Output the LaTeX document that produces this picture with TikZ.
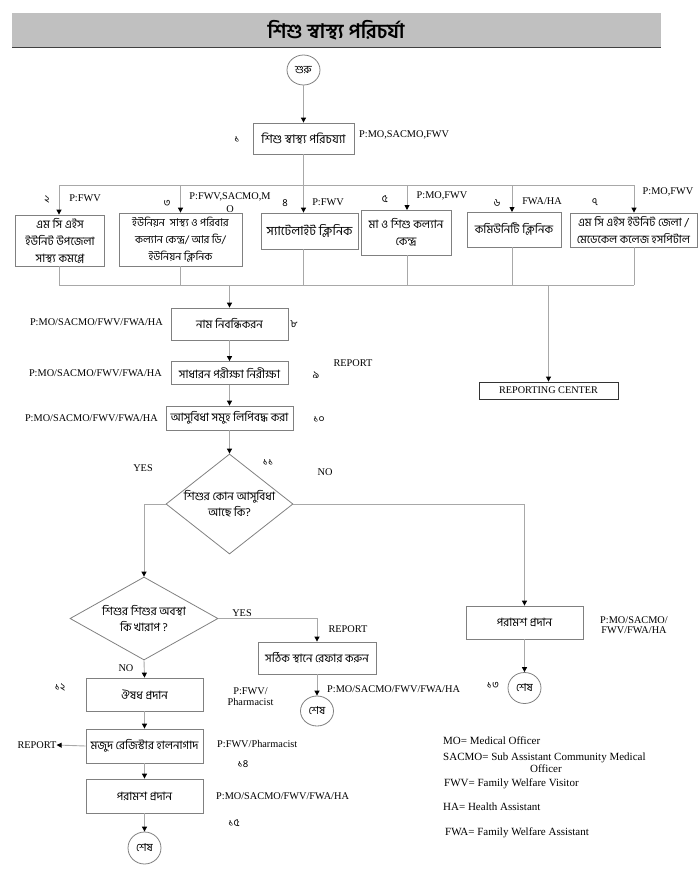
\documentclass[tikz,border=0pt]{standalone}
\usepackage{fontspec}
\setmainfont{Liberation Serif}
\newfontfamily\bn[Script=Bengali]{Hind Siliguri}
\usetikzlibrary{arrows.meta,shapes.geometric}
\definecolor{bordergray}{HTML}{808080}
\definecolor{linegray}{HTML}{A8A8A8}
\definecolor{titlegray}{HTML}{C0C0C0}
\definecolor{titleline}{HTML}{404040}
\begin{document}
\begin{tikzpicture}[x=1pt,y=-1pt,
  box/.style={draw=bordergray,line width=0.8pt,inner sep=0pt,align=center,
    font=\bn\fontsize{11.5}{17}\selectfont},
  rcbox/.style={draw=black!80,line width=0.9pt,inner sep=0pt,font=\fontsize{10.2}{12}\selectfont},
  term/.style={draw=bordergray,line width=0.8pt,ellipse,inner sep=0pt,
    font=\bn\fontsize{11}{12}\selectfont},
  decision/.style={draw=bordergray,line width=0.8pt,diamond,inner sep=0pt,aspect=1.27,align=center,
    font=\bn\fontsize{11.5}{16}\selectfont},
  lbl/.style={inner sep=0pt,font=\fontsize{10.3}{11}\selectfont,align=center},
  num/.style={inner sep=0pt,font=\bn\fontsize{10.5}{12}\selectfont},
  leg/.style={inner sep=0pt,anchor=west,font=\fontsize{11}{12}\selectfont},
  conn/.style={draw=linegray,line width=0.9pt},
  arr/.style={draw=linegray,line width=0.9pt,-{Triangle[length=5pt,width=5pt,color=black]}}
]
\useasboundingbox (0,0) rectangle (700,887);
% title
\fill[titlegray] (12,13) rectangle (661,47);
\draw[titleline,line width=1.4pt] (12,47.3) -- (661,47.3);
\node[inner sep=0pt,font=\bn\bfseries\fontsize{20}{24}\selectfont] (title) at (336,30) {শিশু স্বাস্থ্য পরিচর্যা};

% start
\node[term,minimum width=33pt,minimum height=30pt] (start) at (303.5,70) {শুরু};
\node[box,minimum width=101pt,minimum height=31pt,font=\bn\fontsize{12}{17}\selectfont] (b1) at (303.5,138.5) {শিশু স্বাস্থ্য পরিচয্যা};
\node[num] (n1) at (237,139) {১};
\node[lbl,anchor=west] (p1) at (359,135) {P:MO,SACMO,FWV};
\draw[arr] (start) -- (b1);

% second row boxes
\node[box,minimum width=89pt,minimum height=51pt] (b2) at (60,240.5) {এম সি এইস\\ইউনিট উপজেলা\\সাস্থ্য কমপ্লে};
\node[box,minimum width=123pt,minimum height=53pt,font=\bn\fontsize{10.7}{17}\selectfont] (b3) at (180.5,239.5) {ইউনিয়ন\ \ সাস্থ্য ও পরিবার\\কল্যান কেন্দ্র/ আর ডি/\\ইউনিয়ন ক্লিনিক};
\node[box,minimum width=97pt,minimum height=36pt,font=\bn\fontsize{12.5}{17}\selectfont] (b4) at (309.5,231) {স্যাটেলাইট ক্লিনিক};
\node[box,minimum width=90pt,minimum height=45pt] (b5) at (406,232.5) {মা ও শিশু কল্যান\\কেন্দ্র};
\node[box,minimum width=94pt,minimum height=35pt] (b6) at (514,229.5) {কমিউনিটি ক্লিনিক};
\node[box,minimum width=127pt,minimum height=34pt,font=\bn\fontsize{11.3}{17}\selectfont] (b7) at (633.5,230) {এম সি এইস ইউনিট জেলা /\\মেডেকেল কলেজ হসপিটাল};

\node[num] (n2) at (47,199) {২};
\node[lbl] (p2) at (85,198) {P:FWV};
\node[num] (n3) at (167,203) {৩};
\node[lbl] (p3) at (230,197) {P:FWV,SACMO,M};
\node[lbl] (p3b) at (230,209) {O};
\node[num] (n4) at (285,203) {৪};
\node[lbl] (p4) at (328,202) {P:FWV};
\node[num] (n5) at (385,199) {৫};
\node[lbl] (p5) at (442,196) {P:MO,FWV};
\node[num] (n6) at (497,203) {৬};
\node[lbl] (p6) at (542,201) {FWA/HA};
\node[num] (n7) at (595,202) {৭};
\node[lbl] (p7) at (668,192) {P:MO,FWV};

% top bus
\coordinate (tl) at (59,185);
\coordinate (tr) at (634,185);
\draw[conn] (tl) -- (tr);
\draw[conn] (b1.south) -- (b1.south |- tl);
\draw[arr] (tl) -- (tl |- b2.north);
\draw[arr] (b3.north |- tl) -- (b3.north);
\draw[arr] (b1.south |- tl) -- (b1.south |- b4.north);
\draw[arr] (407,185) -- (407,210);
\draw[arr] (512,185) -- (512,212);
\draw[arr] (tr) -- (tr |- b7.north);

% bottom bus
\coordinate (bl) at (59,285);
\coordinate (br) at (634,285);
\draw[conn] (bl) -- (br);
\draw[conn] (tl |- b2.south) -- (bl);
\draw[conn] (b3.south) -- (b3.south |- bl);
\draw[conn] (b1.south |- b4.south) -- (b1.south |- bl);
\draw[conn] (407,255) -- (407,285);
\draw[conn] (512,247) -- (512,285);
\draw[conn] (tr |- b7.south) -- (br);

% reporting center
\node[rcbox,minimum width=139pt,minimum height=17pt] (rc) at (548.5,390.5) {REPORTING CENTER};
\draw[arr] (rc.north |- bl) -- (rc.north);

% main column
\node[box,minimum width=117pt,minimum height=32pt] (b8) at (229.5,324) {নাম নিবন্ধিকরন};
\node[box,minimum width=117pt,minimum height=23pt] (b9) at (229.5,373) {সাধারন পরীক্ষা নিরীক্ষা};
\node[box,minimum width=127pt,minimum height=24pt] (b10) at (229.5,418) {আসুবিধা সমুহ লিপিবদ্ধ করা};
\draw[arr] (b8.north |- bl) -- (b8.north);
\draw[arr] (b8) -- (b9);
\draw[arr] (b9) -- (b10);
\node[lbl,anchor=east] (p8) at (163,322) {P:MO/SACMO/FWV/FWA/HA};
\node[lbl,anchor=east] (p9) at (162,373) {P:MO/SACMO/FWV/FWA/HA};
\node[lbl,anchor=east] (p10) at (158,418) {P:MO/SACMO/FWV/FWA/HA};
\node[num] (n8) at (294,324) {৮};
\node[num] (n9) at (316,375) {৯};
\node[num] (n10) at (319,419) {১০};
\node[lbl] (rep1) at (353,363) {REPORT};

% decision 1
\node[decision,minimum width=127pt,minimum height=100pt] (d1) at (229.5,504) {শিশুর কোন আসুবিধা\\আছে কি?};
\draw[arr] (b10) -- (d1);
\node[num] (n11) at (268,462) {১১};
\node[lbl] (yes1) at (143,468) {YES};
\node[lbl] (no1) at (325,472) {NO};

% NO branch
\node[box,minimum width=117pt,minimum height=33pt] (b13) at (524.5,622.5) {পরামশ প্রদান};
\node[term,minimum width=33pt,minimum height=31pt] (e13) at (524.5,688) {শেষ};
\draw[arr] (d1.east) -| (b13.north);
\draw[arr] (b13) -- (e13);
\node[num] (n13) at (493,685) {১৩};
\node[lbl,font=\fontsize{10.3}{10.5}\selectfont] (p13) at (634,625) {P:MO/SACMO/\\FWV/FWA/HA};

% decision 2
\node[decision,aspect=1.78,minimum width=148pt,minimum height=83pt] (d2) at (144,618.5) {শিশুর শিশুর অবস্থা\\কি খারাপ ?};
\draw[arr] (d1.west) -| (d2.north);
\node[lbl] (yes2) at (242,613) {YES};
\node[lbl] (no2) at (126,668) {NO};

% refer branch
\node[box,minimum width=118pt,minimum height=32pt] (ref) at (317,658) {সঠিক স্থানে রেফার করুন};
\node[term,minimum width=33pt,minimum height=30pt] (eref) at (317,711) {শেষ};
\draw[arr] (d2.east) -| (ref.north);
\draw[arr] (ref) -- (eref);
\node[lbl] (rep2) at (348,629) {REPORT};
\node[lbl,anchor=west] (pref) at (327,689) {P:MO/SACMO/FWV/FWA/HA};

% medicine branch
\node[box,minimum width=117pt,minimum height=33pt] (b12) at (144.5,694.5) {ঔষধ প্রদান};
\node[box,minimum width=117pt,minimum height=34pt] (b14) at (144.5,746) {মজুদ রেজিস্টার হালনাগাদ};
\node[box,minimum width=117pt,minimum height=34pt] (b15) at (144.5,796) {পরামশ প্রদান};
\node[term,minimum width=33pt,minimum height=32pt] (e15) at (144.5,848) {শেষ};
\draw[arr] (d2.south) -- (b12.north);
\draw[arr] (b12) -- (b14);
\draw[arr] (b14) -- (b15);
\draw[arr] (b15) -- (e15);
\node[lbl] (rep3) at (37,745) {REPORT};
\draw[arr] (b14.west) -- (rep3.east);
\node[num] (n12) at (60,687) {১২};
\node[lbl] (p12) at (250.5,697) {P:FWV/\\Pharmacist};
\node[lbl,anchor=west] (p14) at (217,744) {P:FWV/Pharmacist};
\node[num] (n14) at (243,764) {১৪};
\node[lbl,anchor=west] (p15) at (216,796) {P:MO/SACMO/FWV/FWA/HA};
\node[num] (n15) at (234,823) {১৫};

% legend
\node[leg] (l1) at (443,741) {MO= Medical Officer};
\node[leg] (l2) at (443,758) {SACMO= Sub Assistant Community Medical};
\node[inner sep=0pt,font=\fontsize{11}{12}\selectfont] (l2b) at (546,769) {Officer};
\node[leg] (l3) at (444,784) {FWV= Family Welfare Visitor};
\node[leg] (l4) at (443,807) {HA= Health Assistant};
\node[leg] (l5) at (445,833) {FWA= Family Welfare Assistant};
\end{tikzpicture}
\end{document}
